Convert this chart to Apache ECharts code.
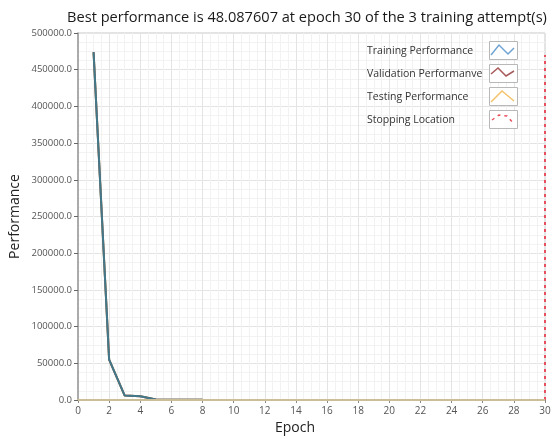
<!DOCTYPE html>
<html>
<head>
<meta charset="utf-8">
<script src="https://cdn.jsdelivr.net/npm/echarts@6/dist/echarts.min.js"></script>
<style>
  html, body { margin: 0; padding: 0; background: #fff; }
  #chart { width: 552px; height: 439px; }
</style>
</head>
<body>
<div id="chart"></div>
<script>
// 数据
var epochs = [];
for (var i = 1; i <= 30; i++) epochs.push(i);
var trainPerf = [474000, 55000, 6000, 5000, 600, 300, 220, 180, 150, 130, 115, 105, 98, 92, 86, 81, 77, 73, 70, 67, 64, 62, 60, 58, 56, 54, 52, 51, 49, 48];
var validPerf = [474000, 55000, 6000, 5000, 620, 310, 225, 182, 152, 132, 117, 106, 99, 93, 87, 82, 78, 74, 71, 68, 65, 63, 61, 59, 57, 55, 53, 52, 50, 49];
var testPerf  = [474000, 55000, 6000, 5000, 640, 320, 230, 185, 155, 134, 119, 107, 100, 94, 88, 83, 79, 75, 72, 69, 66, 64, 62, 60, 58, 56, 54, 53, 51, 50];
var stopEpoch = 30;
var stopRange = [0, 470000];

var legendNames = ['Training Performance', 'Validation Performanve', 'Testing Performance', 'Stopping Location'];

function pairs(vals) {
    var out = [];
    for (var i = 0; i < vals.length; i++) out.push([epochs[i], vals[i]]);
    return out;
}

// 图例小框里的图标
var boxLeft = 489, boxTop = 41, rowGap = 23;
var iconShapes = [
    [[2, 14], [10, 4], [19, 13], [25, 7]],
    [[2, 10], [9, 4], [17, 12], [25, 7]],
    [[2, 15], [13, 4], [25, 14]]
];
var iconColors = ['#6fa3d3', '#a85a5a', '#f5c46a', '#e8505e'];

var graphics = [];
for (var k = 0; k < 4; k++) {
    graphics.push({
        type: 'rect',
        left: boxLeft,
        top: boxTop + k * rowGap,
        z: 3,
        shape: {width: 28, height: 18},
        style: {fill: '#fff', stroke: '#b8b8b8', lineWidth: 1}
    });
    if (k < 3) {
        graphics.push({
            type: 'polyline',
            x: boxLeft,
            y: boxTop + k * rowGap,
            z: 4,
            shape: {points: iconShapes[k]},
            style: {fill: null, stroke: iconColors[k], lineWidth: 1.5}
        });
    } else {
        graphics.push({
            type: 'polyline',
            x: boxLeft,
            y: boxTop + k * rowGap,
            z: 4,
            shape: {points: [[3, 10], [10, 5], [18, 6], [25, 14]]},
            style: {fill: null, stroke: iconColors[k], lineWidth: 1.5, lineDash: [3, 4]}
        });
    }
}

var chart = echarts.init(document.getElementById('chart'));

chart.setOption({
    backgroundColor: '#fff',
    animation: false,
    title: {
        text: 'Best performance is 48.087607 at epoch 30 of the 3 training attempt(s)',
        left: 302,
        textAlign: 'center',
        top: 5,
        textStyle: {
            fontFamily: 'Open Sans',
            fontSize: 14.6,
            fontWeight: 'normal',
            color: '#1a1a1a'
        }
    },
    grid: {
        left: 78,
        right: 7,
        top: 33,
        bottom: 39,
        outerBoundsMode: 'none',
        containLabel: false,
        show: true,
        borderColor: '#c8c8c8',
        borderWidth: 1
    },
    legend: {
        orient: 'vertical',
        left: 357,
        top: 38,
        itemWidth: 0,
        itemHeight: 16,
        itemGap: 9.5,
        icon: 'none',
        z: 5,
        textStyle: {
            fontFamily: 'Open Sans',
            fontSize: 10.5,
            color: '#333'
        },
        data: legendNames
    },
    graphic: graphics,
    xAxis: {
        type: 'value',
        min: 0,
        max: 30,
        interval: 2,
        name: 'Epoch',
        nameLocation: 'middle',
        nameGap: 21,
        nameTextStyle: {
            fontFamily: 'Open Sans',
            fontSize: 14,
            color: '#222',
            padding: [0, 33, 0, 0]
        },
        axisLine: {lineStyle: {color: '#cbbd95', width: 2}},
        axisTick: {show: true, length: 3, lineStyle: {color: '#888'}},
        axisLabel: {fontFamily: 'Open Sans', fontSize: 10, color: '#555', margin: 6},
        splitLine: {show: true, lineStyle: {color: '#e4e4e4'}},
        minorTick: {show: false, splitNumber: 4},
        minorSplitLine: {show: true, lineStyle: {color: '#f2f2f2'}}
    },
    yAxis: {
        type: 'value',
        min: 0,
        max: 500000,
        interval: 50000,
        name: 'Performance',
        nameLocation: 'middle',
        nameGap: 56,
        nameMoveOverlap: false,
        nameTextStyle: {
            fontFamily: 'Open Sans',
            fontSize: 14,
            color: '#222'
        },
        axisLine: {show: true, lineStyle: {color: '#999', width: 1.5}},
        axisTick: {show: true, length: 4, lineStyle: {color: '#666'}},
        axisLabel: {
            fontFamily: 'Open Sans',
            fontSize: 9.5,
            color: '#555',
            margin: 6,
            formatter: function (v) { return v.toFixed(1); }
        },
        splitLine: {show: true, lineStyle: {color: '#e4e4e4'}},
        minorTick: {show: false, splitNumber: 4},
        minorSplitLine: {show: true, lineStyle: {color: '#f2f2f2'}}
    },
    series: [
        {
            name: legendNames[2],
            type: 'line',
            data: pairs(testPerf),
            showSymbol: false,
            lineStyle: {color: '#e8c070', width: 2},
            itemStyle: {color: '#f5c46a'},
            z: 2
        },
        {
            name: legendNames[1],
            type: 'line',
            data: pairs(validPerf),
            showSymbol: false,
            lineStyle: {color: '#8a5a5a', width: 2},
            itemStyle: {color: '#a85a5a'},
            z: 2
        },
        {
            name: legendNames[0],
            type: 'line',
            data: pairs(trainPerf),
            showSymbol: false,
            lineStyle: {color: '#42788a', width: 2},
            itemStyle: {color: '#6fa3d3'},
            z: 2
        },
        {
            name: legendNames[3],
            type: 'line',
            data: [[stopEpoch, stopRange[0]], [stopEpoch, stopRange[1]]],
            showSymbol: false,
            lineStyle: {color: '#e8505e', width: 2, type: [3, 4]},
            itemStyle: {color: '#e8505e'},
            z: 4,
            markLine: {   // 底部那段贴着0的淡黄色线
                silent: true,
                symbol: 'none',
                label: {show: false},
                lineStyle: {color: '#cbbd95', width: 2, type: 'solid'},
                data: [{yAxis: 0}]
            }
        }
    ]
});
</script>
</body>
</html>
